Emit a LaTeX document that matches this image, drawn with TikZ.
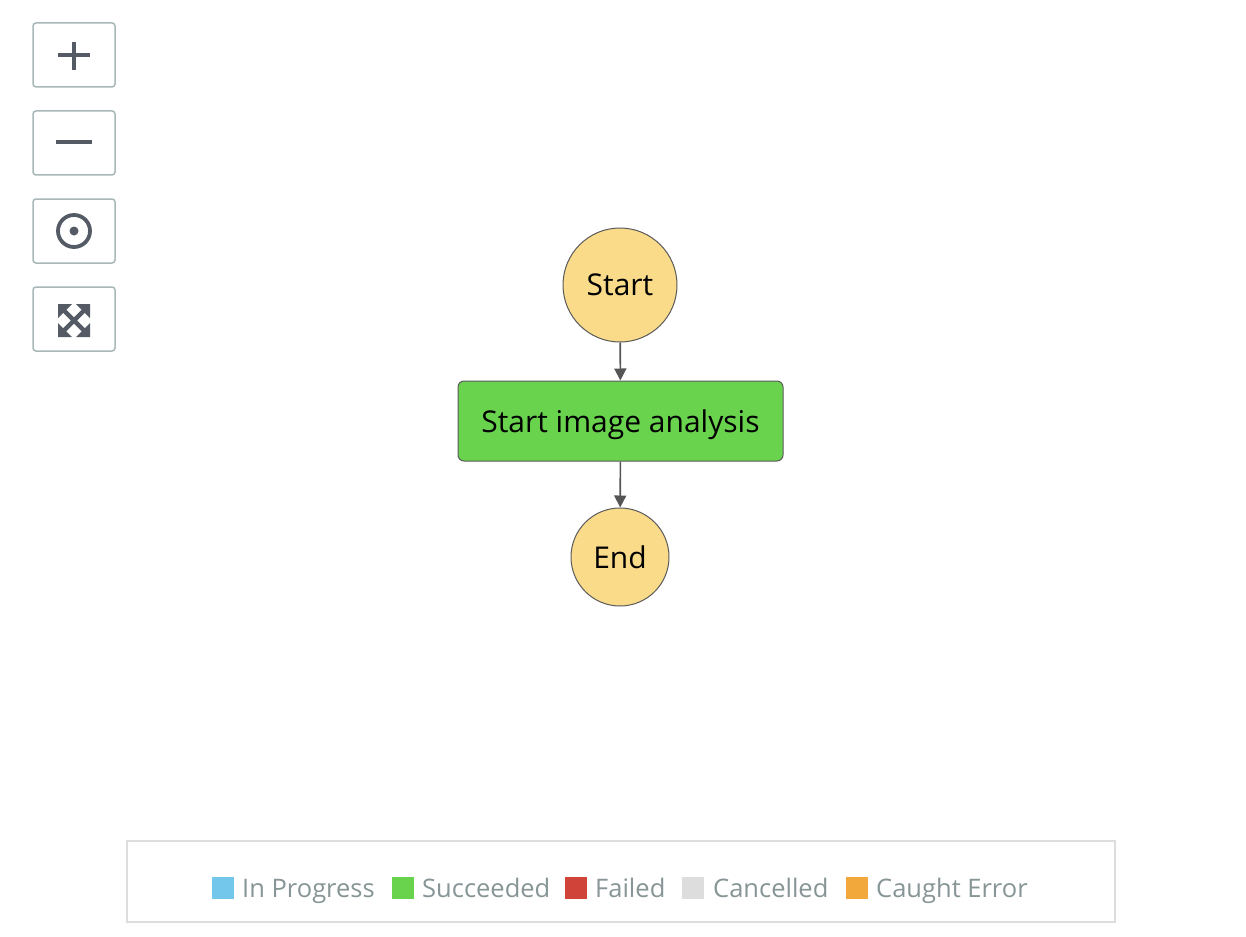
\documentclass[tikz,border=0pt]{standalone}
\usepackage{fontspec}
\setmainfont{Open Sans}
\usetikzlibrary{arrows.meta}
\definecolor{btnborder}{HTML}{AAB7B8}
\definecolor{icon}{HTML}{545B64}
\definecolor{startfill}{HTML}{F9DB8A}
\definecolor{nodeborder}{HTML}{5A5A5A}
\definecolor{taskfill}{HTML}{69D34E}
\definecolor{arrowcol}{HTML}{555555}
\definecolor{legborder}{HTML}{DDDDDD}
\definecolor{legtext}{HTML}{879596}
\definecolor{cblue}{HTML}{73C7EA}
\definecolor{cgreen}{HTML}{69D34E}
\definecolor{cred}{HTML}{CF4339}
\definecolor{cgrey}{HTML}{DDDDDD}
\definecolor{corange}{HTML}{F3A83B}
\tikzset{
  btn/.style={draw=btnborder, line width=1.5pt, rounded corners=3pt, fill=white},
  iconline/.style={draw=icon, line width=4pt},
  statecircle/.style={circle, draw=nodeborder, line width=1pt, fill=startfill, inner sep=0pt, font=\fontsize{30}{36}\selectfont},
  taskbox/.style={rectangle, rounded corners=6pt, draw=nodeborder, line width=1pt, fill=taskfill, minimum width=325pt, minimum height=80pt, text depth=0pt, font=\fontsize{30}{36}\selectfont},
  flow/.style={draw=arrowcol, line width=1.6pt, -{Triangle[length=12pt,width=12pt]}},
  legsq/.style={rectangle, inner sep=0pt, minimum width=22pt, minimum height=22pt},
  legtxt/.style={anchor=base west, inner sep=0pt, text=legtext, font=\fontsize{25.5}{30}\selectfont}
}
\begin{document}
\begin{tikzpicture}[x=1pt,y=-1pt]
\useasboundingbox[fill=white] (0,0) rectangle (1246,936);
% buttons
\path[btn] (33,23) rectangle (115,87);
\path[btn] (33,111) rectangle (115,175);
\path[btn] (33,199) rectangle (115,263);
\path[btn] (33,287) rectangle (115,351);
% plus
\draw[iconline] (58,55.5) -- (90,55.5);
\draw[iconline] (74,42) -- (74,70);
% minus
\draw[iconline] (56,142.5) -- (92,142.5);
% target
\draw[draw=icon, line width=3.8pt] (74,231) circle (16);
\fill[icon] (74,231) circle (4.5);
% fit icon
\begin{scope}[shift={(74,320.5)}]
  \draw[draw=icon, line width=4.5pt] (-12,-12) -- (12,12) (-12,12) -- (12,-12);
  \fill[icon] (-16,-16.5) -- (-2,-16.5) -- (-16,-2.5) -- cycle;
  \fill[icon] (16,-16.5) -- (2,-16.5) -- (16,-2.5) -- cycle;
  \fill[icon] (-16,16.5) -- (-2,16.5) -- (-16,2.5) -- cycle;
  \fill[icon] (16,16.5) -- (2,16.5) -- (16,2.5) -- cycle;
\end{scope}
% flow
\node[statecircle, minimum size=114pt] (start) at (620,285) {Start};
\node[taskbox] (task) at (620.5,421) {Start image analysis};
\node[statecircle, minimum size=98pt] (end) at (620,557) {End};
\draw[flow] (start) -- (task);
\draw[flow] (task) -- (end);
% legend
\draw[draw=legborder, line width=2pt] (127,841) rectangle (1115,922);
\node[legsq, fill=cblue] (sq1) at (223,887.5) {};
\node[legtxt] (t1) at (242,897) {In Progress};
\node[legsq, fill=cgreen] (sq2) at (403,887.5) {};
\node[legtxt] (t2) at (422,897) {Succeeded};
\node[legsq, fill=cred] (sq3) at (576,887.5) {};
\node[legtxt] (t3) at (595,897) {Failed};
\node[legsq, fill=cgrey] (sq4) at (693,887.5) {};
\node[legtxt] (t4) at (713,897) {Cancelled};
\node[legsq, fill=corange] (sq5) at (857,887.5) {};
\node[legtxt] (t5) at (876,897) {Caught Error};
\end{tikzpicture}
\end{document}
